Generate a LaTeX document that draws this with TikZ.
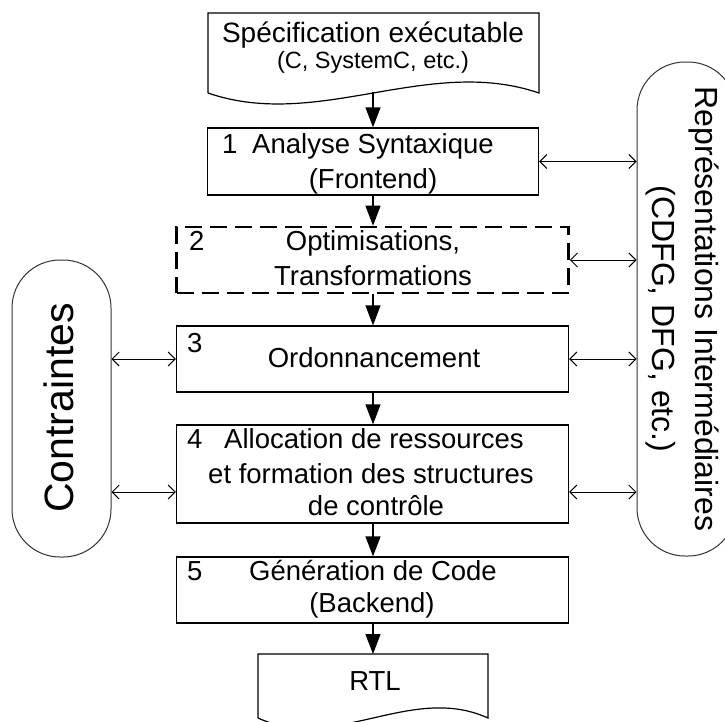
\documentclass[tikz,border=0pt]{standalone}
\usepackage{fontspec}
\setmainfont{Liberation Sans}
\usetikzlibrary{arrows.meta}
\begin{document}
\begin{tikzpicture}[x=1pt,y=-1pt,
 box/.style={draw,line width=1.3pt,minimum width=392pt,minimum height=66pt,inner sep=0pt},
 dashbox/.style={box,line width=2.6pt,dash pattern=on 17pt off 8pt},
 txt/.style={anchor=base,inner sep=0pt,font=\fontsize{27.5}{30}\selectfont},
 numtxt/.style={txt,anchor=base west},
 flow/.style={line width=1.3pt,-{Triangle[width=15pt,length=20pt]}},
 link/.style={line width=1pt,{Straight Barb[length=7pt,width=14pt]}-{Straight Barb[length=7pt,width=14pt]}},
 pill/.style={draw=black!80,line width=1pt,rounded corners=48pt,minimum width=99pt,inner sep=0pt},
 doc/.style={draw,line width=1.2pt}
]
\useasboundingbox (0,0) rectangle (725,721);
\fill[white] (0,0) rectangle (725,721);

% documents
\draw[doc] (208,93) -- (208,13) -- (539,13) -- (539,93)
  .. controls (428,55) and (318,131) .. (208,93);
\coordinate (docb) at (373,92);
\draw[doc] (258,718) -- (258,654) -- (488,654) -- (488,718)
  .. controls (411,683) and (335,753) .. (258,718);
\coordinate (rtltop) at (373,654);

% boxes
\node[box,minimum width=331pt,minimum height=67pt] (b1) at (373,161.5) {};
\node[dashbox] (b2) at (372.5,260) {};
\node[box] (b3) at (372.5,359) {};
\node[box,minimum height=98pt] (b4) at (372.5,474) {};
\node[box] (b5) at (372.5,590) {};

% side pills
\node[pill,minimum height=297pt] (lp) at (61.5,408.5) {};
\node[pill,minimum height=494pt] (rp) at (686.5,309) {};

% flow arrows
\draw[flow] (docb) -- (docb |- b1.north);
\draw[flow] (docb |- b1.south) -- (docb |- b2.north);
\draw[flow] (docb |- b2.south) -- (docb |- b3.north);
\draw[flow] (docb |- b3.south) -- (docb |- b4.north);
\draw[flow] (docb |- b4.south) -- (docb |- b5.north);
\draw[flow] (docb |- b5.south) -- (rtltop);

% links
\coordinate (b4r) at ([yshift=-18pt]b4.east);
\coordinate (b4l) at ([yshift=-18pt]b4.west);
\draw[link] (b1.east) -- (b1.east -| rp.west);
\draw[link] (b2.east) -- (b2.east -| rp.west);
\draw[link] (b3.east) -- (b3.east -| rp.west);
\draw[link] (b4r) -- (b4r -| rp.west);
\draw[link] (lp.east |- b3.west) -- (b3.west);
\draw[link] (lp.east |- b4l) -- (b4l);

% texts
\node[txt,font=\fontsize{28}{30}\selectfont] (t0a) at (373,42) {Spécification exécutable};
\node[txt,font=\fontsize{23.5}{26}\selectfont] (t0b) at (373,68) {(C, SystemC, etc.)};

\node[numtxt] (n1) at (222,153) {1};
\node[txt] (t1a) at (373,153) {Analyse Syntaxique};
\node[txt] (t1b) at (373,188) {(Frontend)};

\node[numtxt] (n2) at (189,250) {2};
\node[txt] (t2a) at (373,250) {Optimisations,};
\node[txt] (t2b) at (373,285) {Transformations};

\node[numtxt] (n3) at (187,352) {3};
\node[txt] (t3) at (374,367) {Ordonnancement};

\node[numtxt] (n4) at (187,448) {4};
\node[txt] (t4a) at (374,448) {Allocation de ressources};
\node[txt] (t4b) at (371,483) {et formation des structures};
\node[txt] (t4c) at (376,515) {de contrôle};

\node[numtxt] (n5) at (187,580) {5};
\node[txt] (t5a) at (373,580) {Génération de Code};
\node[txt] (t5b) at (372,612) {(Backend)};

\node[txt] (trtl) at (375,690) {RTL};

\node[txt,rotate=90,font=\fontsize{41}{45}\selectfont] (tc) at (73,408) {Contraintes};
\node[txt,rotate=-90,font=\fontsize{32}{36}\selectfont] (tr1) at (695,309) {Représentations Intermédiaires};
\node[txt,rotate=-90,font=\fontsize{32}{36}\selectfont] (tr2) at (652,319) {(CDFG, DFG, etc.)};
\end{tikzpicture}
\end{document}
